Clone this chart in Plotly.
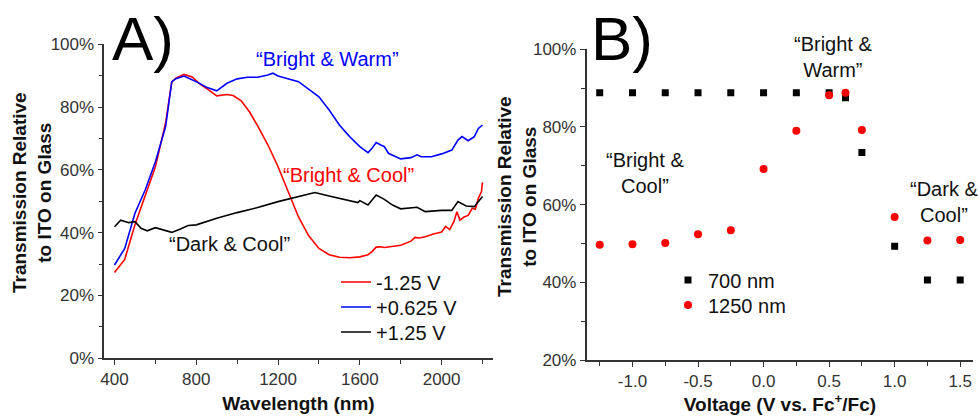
import plotly.graph_objects as go

# ---------------- Panel A data ----------------
wl_red = [400, 450, 500, 550, 600, 650, 680, 700, 740, 780, 820, 860, 900, 950, 980, 1020,
          1060, 1100, 1150, 1200, 1250, 1300, 1350, 1400, 1450, 1500, 1550, 1600, 1640, 1660,
          1680, 1700, 1720, 1760, 1800, 1850, 1870, 1890, 1920, 1960, 2000, 2020, 2040, 2060,
          2075, 2090, 2110, 2130, 2150, 2165, 2180, 2195, 2200]
t_red = [27.3, 31.5, 42.5, 52.0, 61.0, 75.0, 88.0, 89.2, 90.4, 89.6, 87.2, 85.5, 83.6, 84.0, 83.7, 82.0,
         78.5, 74.0, 68.0, 61.0, 53.0, 45.0, 39.0, 35.0, 33.0, 32.2, 32.0, 32.3, 33.0, 34.0,
         35.4, 35.5, 35.3, 35.6, 36.0, 37.3, 38.5, 38.3, 38.7, 39.6, 40.2, 42.0, 41.0, 43.5,
         46.7, 44.0, 45.0, 45.5, 47.8, 47.5, 51.0, 53.0, 56.0]

wl_blue = [400, 450, 500, 550, 600, 650, 680, 700, 740, 800, 850, 900, 950, 1000, 1050, 1100,
           1150, 1175, 1200, 1300, 1400, 1450, 1500, 1550, 1600, 1640, 1660, 1680, 1700, 1720,
           1740, 1800, 1850, 1880, 1900, 1950, 2000, 2050, 2080, 2100, 2130, 2160, 2180, 2200]
t_blue = [29.7, 35.0, 46.2, 53.6, 62.6, 73.8, 88.1, 89.0, 89.9, 88.1, 86.3, 85.2, 87.6, 89.0, 89.5, 89.5,
          90.2, 90.8, 89.9, 88.1, 83.3, 79.1, 74.3, 70.6, 67.4, 65.5, 66.9, 68.7, 68.0, 67.4,
          65.3, 63.5, 63.9, 64.8, 64.2, 64.2, 65.1, 66.3, 69.5, 70.6, 69.3, 70.6, 73.2, 74.3]

wl_black = [400, 430, 470, 500, 530, 560, 600, 640, 680, 720, 760, 800, 900, 1000, 1100, 1200,
            1300, 1380, 1450, 1550, 1590, 1600, 1640, 1680, 1720, 1760, 1800, 1880, 1920, 2000,
            2050, 2080, 2120, 2160, 2200]
t_black = [41.9, 44.0, 43.2, 43.5, 41.4, 40.6, 41.6, 40.9, 40.1, 41.1, 42.3, 42.5, 44.6, 46.4, 48.0, 49.9,
           51.5, 52.8, 51.7, 50.1, 49.6, 50.2, 48.8, 52.0, 50.6, 48.8, 47.6, 48.1, 46.7, 47.1,
           47.1, 49.9, 48.5, 48.3, 51.5]

# ---------------- Panel B data ----------------
voltage = [-1.25, -1.0, -0.75, -0.5, -0.25, 0.0, 0.25, 0.5, 0.625, 0.75, 1.0, 1.25, 1.5]
t_700 = [88.8, 88.8, 88.8, 88.8, 88.8, 88.8, 88.8, 88.8, 87.5, 73.4, 49.3, 40.6, 40.6]
t_1250 = [49.7, 49.8, 50.1, 52.4, 53.4, 69.2, 79.0, 88.2, 88.8, 79.2, 56.8, 50.8, 50.9]

pct_ticks_a = [0, 20, 40, 60, 80, 100]
pct_labels_a = ["0%", "20%", "40%", "60%", "80%", "100%"]
pct_ticks_b = [20, 40, 60, 80, 100]
pct_labels_b = ["20%", "40%", "60%", "80%", "100%"]
wl_ticks = [400, 800, 1200, 1600, 2000]
wl_labels = ["400", "800", "1200", "1600", "2000"]
v_ticks = [-1.0, -0.5, 0.0, 0.5, 1.0, 1.5]
v_labels = ["-1.0", "-0.5", "0.0", "0.5", "1.0", "1.5"]

FONT = "Liberation Sans, Arial, sans-serif"
AXC = "#333333"
H = 416.0
W = 980.0

fig = go.Figure()
fig.add_trace(go.Scatter(x=wl_red, y=t_red, mode="lines", name="-1.25 V",
                         line=dict(color="#ff0000", width=1.6), xaxis="x", yaxis="y", legend="legend"))
fig.add_trace(go.Scatter(x=wl_blue, y=t_blue, mode="lines", name="+0.625 V",
                         line=dict(color="#0000ff", width=1.6), xaxis="x", yaxis="y", legend="legend2"))
fig.add_trace(go.Scatter(x=wl_black, y=t_black, mode="lines", name="+1.25 V",
                         line=dict(color="#000000", width=1.6), xaxis="x", yaxis="y", legend="legend3"))

fig.add_trace(go.Scatter(x=voltage, y=t_700, mode="markers", name="700 nm",
                         marker=dict(symbol="square", color="#000000", size=7),
                         xaxis="x2", yaxis="y2", legend="legend4"))
fig.add_trace(go.Scatter(x=voltage, y=t_1250, mode="markers", name="1250 nm",
                         marker=dict(symbol="circle", color="#ff0000", size=8),
                         xaxis="x2", yaxis="y2", legend="legend5"))

axis_common = dict(showline=True, linecolor=AXC, linewidth=1.5, ticks="outside", ticklen=5,
                   tickwidth=1.2, tickcolor=AXC, showgrid=False, zeroline=False, automargin=False,
                   tickmode="array",
                   tickfont=dict(family=FONT, size=17, color="#333333"))
title_font = dict(family=FONT, size=19, color="#111111", weight="bold")


def leg(xpx, ypx):
    return dict(x=xpx / W, y=1 - ypx / H, xanchor="left", yanchor="middle",
                bgcolor="rgba(0,0,0,0)", font=dict(family=FONT, size=20, color="#111111"),
                tracegroupgap=0, itemwidth=30, borderwidth=0)


fig.update_layout(
    width=980, height=416,
    margin=dict(l=0, r=0, t=0, b=0, autoexpand=False),
    paper_bgcolor="white", plot_bgcolor="white",
    font=dict(family=FONT),
    xaxis=dict(domain=[104.3 / W, 492.7 / W], range=[350, 2250], anchor="y",
               tickvals=wl_ticks, ticktext=wl_labels,
               minor=dict(ticks="outside", dtick=200, tick0=400, ticklen=4, tickcolor=AXC),
               title=dict(text="Wavelength (nm)", font=title_font, standoff=8),
               **axis_common),
    yaxis=dict(domain=[1 - 358.3 / H, 1 - 44.3 / H], range=[0, 100], anchor="x",
               tickvals=pct_ticks_a, ticktext=pct_labels_a,
               minor=dict(ticks="outside", dtick=10, ticklen=4, tickcolor=AXC),
               **axis_common),
    xaxis2=dict(domain=[586.6 / W, 973.3 / W], range=[-1.35, 1.6], anchor="y2",
                tickvals=v_ticks, ticktext=v_labels,
                minor=dict(ticks="outside", dtick=0.25, tick0=0, ticklen=4, tickcolor=AXC),
                title=dict(text="Voltage (V vs. Fc<sup>+</sup>/Fc)", font=title_font, standoff=8),
                **axis_common),
    yaxis2=dict(domain=[1 - 360 / H, 1 - 49.3 / H], range=[20, 100], anchor="x2",
                tickvals=pct_ticks_b, ticktext=pct_labels_b,
                minor=dict(ticks="outside", dtick=10, ticklen=4, tickcolor=AXC),
                **axis_common),
    legend=leg(336, 282),
    legend2=leg(336, 307),
    legend3=leg(336, 332),
    legend4=leg(668, 280),
    legend5=leg(668, 305),
    showlegend=True,
)

ann_font = dict(family=FONT, size=20)
annotations = [
    dict(x=1440, y=95.2, xref="x", yref="y", text="“Bright & Warm”", showarrow=False,
         font=dict(color="#0000ff", **ann_font)),
    dict(x=1547, y=58.4, xref="x", yref="y", text="“Bright & Cool”", showarrow=False,
         font=dict(color="#ff0000", **ann_font)),
    dict(x=961, y=36.4, xref="x", yref="y", text="“Dark & Cool”", showarrow=False,
         font=dict(color="#111111", **ann_font)),
    dict(x=0.527, y=97.9, xref="x2", yref="y2", text="“Bright &<br>Warm”", showarrow=False,
         font=dict(color="#111111", **ann_font)),
    dict(x=-0.903, y=68.1, xref="x2", yref="y2", text="“Bright &<br>Cool”", showarrow=False,
         font=dict(color="#111111", **ann_font)),
    dict(x=1.375, y=60.8, xref="x2", yref="y2", text="“Dark &<br>Cool”", showarrow=False,
         font=dict(color="#111111", **ann_font)),
    dict(x=110 / W, y=1 - 38 / H, xref="paper", yref="paper", text="A)", showarrow=False,
         xanchor="left", yanchor="middle", font=dict(family=FONT, size=62, color="#000000")),
    dict(x=589 / W, y=1 - 38 / H, xref="paper", yref="paper", text="B)", showarrow=False,
         xanchor="left", yanchor="middle", font=dict(family=FONT, size=62, color="#000000")),
    # y-axis titles
    dict(x=32 / W, y=1 - 193 / H, xref="paper", yref="paper", textangle=-90,
         text="Transmission Relative<br>to ITO on Glass", showarrow=False,
         xanchor="center", yanchor="middle", font=title_font),
    dict(x=517 / W, y=1 - 197 / H, xref="paper", yref="paper", textangle=-90,
         text="Transmission Relative<br>to ITO on Glass", showarrow=False,
         xanchor="center", yanchor="middle", font=title_font),
]
fig.update_layout(annotations=annotations)

fig.write_html("out.html", config={"displayModeBar": False},
               post_script="document.body.style.margin='0';document.body.style.padding='0';")
